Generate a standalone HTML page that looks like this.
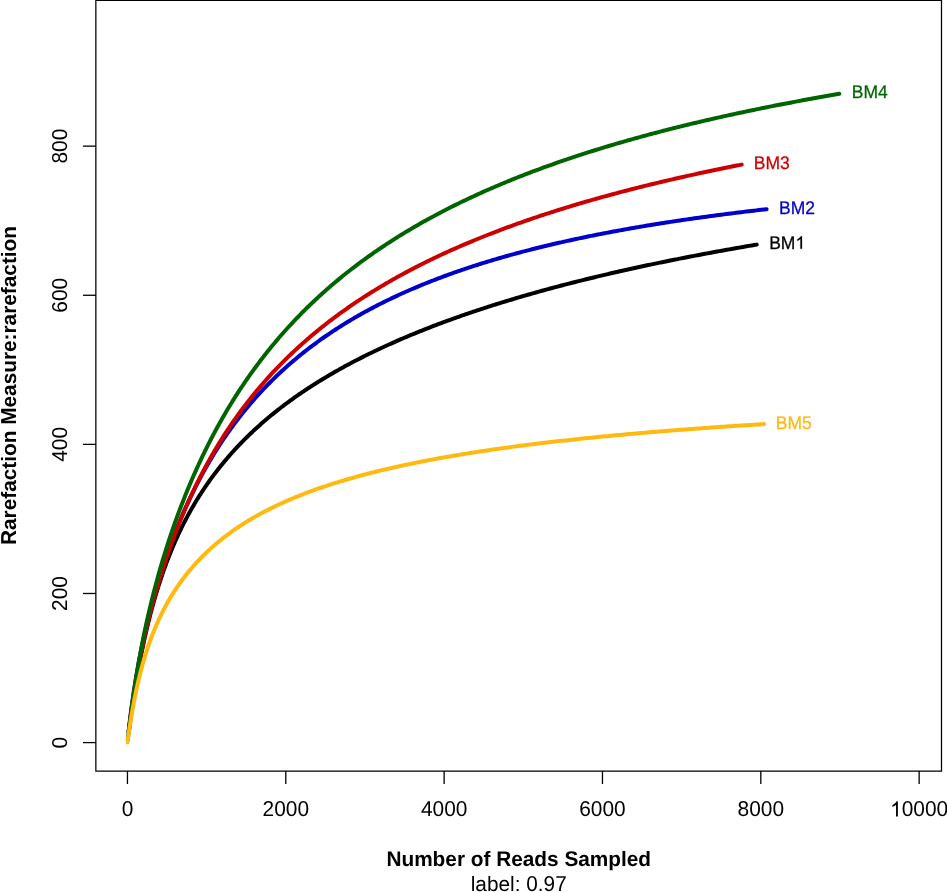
<!DOCTYPE html>
<html><head><meta charset="utf-8"><style>
html,body{margin:0;padding:0;background:#fff;width:947px;height:892px;overflow:hidden}
svg{display:block;will-change:transform}
text{font-family:"Liberation Sans", sans-serif;font-kerning:none;white-space:pre;text-rendering:geometricPrecision}
</style></head><body>
<svg width="947" height="892" viewBox="0 0 947 892">
<rect width="947" height="892" fill="#fff"/>
<polyline points="128.84,731.75 128.96,730.83 129.08,729.87 129.21,728.88 129.34,727.86 129.48,726.81 129.63,725.72 129.77,724.60 129.93,723.45 130.09,722.27 130.25,721.06 130.42,719.83 130.60,718.56 130.77,717.26 130.96,715.94 131.15,714.59 131.34,713.21 131.54,711.81 131.75,710.39 131.96,708.94 132.17,707.46 132.39,705.97 132.62,704.45 132.85,702.91 133.08,701.36 133.32,699.78 133.57,698.18 133.82,696.56 134.07,694.93 134.33,693.28 134.60,691.61 134.87,689.93 135.14,688.23 135.42,686.52 135.71,684.79 136.00,683.05 136.30,681.30 136.60,679.54 136.90,677.76 137.21,675.98 137.53,674.18 137.85,672.38 138.18,670.57 138.51,668.75 138.84,666.92 139.18,665.08 139.53,663.24 139.88,661.39 140.24,659.54 140.60,657.68 140.97,655.81 141.34,653.95 141.71,652.08 142.10,650.20 142.48,648.33 142.87,646.45 143.27,644.57 143.67,642.69 144.08,640.81 144.49,638.92 144.91,637.04 145.33,635.16 145.76,633.28 146.19,631.40 146.63,629.52 147.07,627.64 147.52,625.77 147.97,623.90 148.43,622.03 148.89,620.16 149.36,618.29 149.83,616.43 150.31,614.58 150.79,612.73 151.28,610.88 151.77,609.03 152.27,607.19 152.77,605.36 153.28,603.53 153.79,601.71 154.31,599.89 154.83,598.08 155.36,596.27 155.89,594.47 156.43,592.67 156.97,590.88 157.52,589.10 158.08,587.32 158.63,585.55 159.20,583.79 159.77,582.03 160.34,580.28 160.92,578.54 161.50,576.80 162.09,575.08 162.68,573.35 163.28,571.64 163.89,569.93 164.50,568.23 165.11,566.54 165.73,564.86 166.35,563.18 166.98,561.51 167.62,559.85 168.26,558.19 168.90,556.54 169.55,554.90 170.20,553.27 170.86,551.65 171.53,550.03 172.20,548.42 172.87,546.82 173.55,545.22 174.24,543.64 174.93,542.06 175.62,540.49 176.32,538.92 177.03,537.37 177.74,535.82 178.45,534.28 179.17,532.74 179.90,531.22 180.63,529.70 181.36,528.19 182.10,526.68 182.85,525.19 183.60,523.70 184.36,522.21 185.12,520.74 185.88,519.27 186.65,517.81 187.43,516.36 188.21,514.91 188.99,513.48 189.79,512.04 190.58,510.62 191.38,509.20 192.19,507.79 193.00,506.39 193.82,504.99 194.64,503.60 195.46,502.22 196.29,500.84 197.13,499.47 197.97,498.11 198.82,496.75 199.67,495.40 200.53,494.06 201.39,492.72 202.26,491.39 203.13,490.07 204.00,488.75 204.89,487.44 205.77,486.14 206.67,484.84 207.56,483.55 208.46,482.26 209.37,480.98 210.28,479.71 211.20,478.44 212.12,477.18 213.05,475.92 213.98,474.67 214.92,473.43 215.86,472.19 216.81,470.95 217.76,469.73 218.72,468.51 219.68,467.29 220.65,466.08 221.62,464.88 222.60,463.68 223.59,462.48 224.57,461.29 225.57,460.11 226.56,458.93 227.57,457.76 228.58,456.60 229.59,455.43 230.61,454.28 231.63,453.13 232.66,451.98 233.69,450.84 234.73,449.70 235.78,448.57 236.82,447.45 237.88,446.33 238.94,445.21 240.00,444.10 241.07,442.99 242.14,441.89 243.22,440.79 244.31,439.70 245.39,438.61 246.49,437.53 247.59,436.45 248.69,435.38 249.80,434.31 250.92,433.24 252.04,432.18 253.16,431.13 254.29,430.08 255.42,429.03 256.56,427.99 257.71,426.95 258.86,425.92 260.01,424.89 261.17,423.86 262.34,422.84 263.51,421.82 264.68,420.81 265.86,419.80 267.05,418.79 268.24,417.79 269.43,416.80 270.63,415.80 271.84,414.81 273.05,413.83 274.26,412.85 275.49,411.87 276.71,410.90 277.94,409.93 279.18,408.96 280.42,408.00 281.66,407.04 282.91,406.09 284.17,405.14 285.43,404.19 286.70,403.25 287.97,402.31 289.24,401.37 290.53,400.44 291.81,399.51 293.10,398.58 294.40,397.66 295.70,396.74 297.01,395.83 298.32,394.91 299.63,394.01 300.96,393.10 302.28,392.20 303.61,391.30 304.95,390.40 306.29,389.51 307.64,388.62 308.99,387.74 310.35,386.86 311.71,385.98 313.08,385.10 314.45,384.23 315.83,383.36 317.21,382.50 318.60,381.63 319.99,380.77 321.39,379.92 322.79,379.06 324.20,378.21 325.61,377.36 327.03,376.52 328.45,375.68 329.88,374.84 331.31,374.00 332.75,373.17 334.19,372.34 335.64,371.51 337.09,370.69 338.55,369.87 340.01,369.05 341.48,368.23 342.95,367.42 344.43,366.61 345.91,365.80 347.40,365.00 348.90,364.20 350.40,363.40 351.90,362.60 353.41,361.81 354.92,361.02 356.44,360.23 357.96,359.45 359.49,358.66 361.03,357.88 362.56,357.11 364.11,356.33 365.66,355.56 367.21,354.79 368.77,354.02 370.33,353.26 371.90,352.50 373.48,351.74 375.06,350.98 376.64,350.23 378.23,349.47 379.83,348.73 381.43,347.98 383.03,347.23 384.64,346.49 386.25,345.75 387.87,345.02 389.50,344.28 391.13,343.55 392.76,342.82 394.40,342.09 396.05,341.37 397.70,340.64 399.35,339.92 401.01,339.21 402.68,338.49 404.35,337.78 406.02,337.07 407.71,336.36 409.39,335.65 411.08,334.95 412.78,334.24 414.48,333.54 416.18,332.85 417.89,332.15 419.61,331.46 421.33,330.77 423.06,330.08 424.79,329.39 426.52,328.71 428.26,328.03 430.01,327.35 431.76,326.67 433.52,325.99 435.28,325.32 437.04,324.65 438.82,323.98 440.59,323.31 442.37,322.65 444.16,321.99 445.95,321.33 447.75,320.67 449.55,320.01 451.36,319.36 453.17,318.70 454.99,318.05 456.81,317.41 458.63,316.76 460.47,316.11 462.30,315.47 464.15,314.83 465.99,314.19 467.85,313.56 469.70,312.92 471.56,312.29 473.43,311.66 475.30,311.03 477.18,310.41 479.06,309.78 480.95,309.16 482.84,308.54 484.74,307.92 486.65,307.30 488.55,306.69 490.47,306.08 492.38,305.46 494.31,304.86 496.23,304.25 498.17,303.64 500.11,303.04 502.05,302.44 504.00,301.84 505.95,301.24 507.91,300.64 509.87,300.05 511.84,299.46 513.81,298.87 515.79,298.28 517.78,297.69 519.77,297.11 521.76,296.52 523.76,295.94 525.76,295.36 527.77,294.78 529.78,294.21 531.80,293.63 533.83,293.06 535.86,292.49 537.89,291.92 539.93,291.35 541.97,290.79 544.02,290.22 546.08,289.66 548.14,289.10 550.20,288.54 552.27,287.98 554.35,287.43 556.43,286.87 558.51,286.32 560.60,285.77 562.69,285.22 564.79,284.68 566.90,284.13 569.01,283.59 571.12,283.04 573.24,282.50 575.37,281.96 577.50,281.43 579.64,280.89 581.78,280.36 583.92,279.83 586.07,279.30 588.23,278.77 590.39,278.24 592.55,277.71 594.72,277.19 596.90,276.67 599.08,276.15 601.27,275.63 603.46,275.11 605.65,274.59 607.85,274.08 610.06,273.56 612.27,273.05 614.49,272.54 616.71,272.03 618.93,271.53 621.16,271.02 623.40,270.52 625.64,270.02 627.89,269.52 630.14,269.02 632.40,268.52 634.66,268.02 636.93,267.53 639.20,267.03 641.47,266.54 643.76,266.05 646.04,265.56 648.33,265.08 650.63,264.59 652.93,264.11 655.24,263.62 657.55,263.14 659.87,262.66 662.19,262.18 664.52,261.71 666.85,261.23 669.19,260.76 671.53,260.28 673.88,259.81 676.23,259.34 678.59,258.87 680.95,258.41 683.32,257.94 685.69,257.48 688.07,257.01 690.45,256.55 692.84,256.09 695.23,255.64 697.63,255.18 700.03,254.72 702.44,254.27 704.86,253.81 707.27,253.36 709.70,252.91 712.13,252.46 714.56,252.02 717.00,251.57 719.44,251.13 721.89,250.68 724.34,250.24 726.80,249.80 729.27,249.36 731.73,248.92 734.21,248.48 736.69,248.05 739.17,247.61 741.66,247.18 744.15,246.75 746.65,246.32 749.16,245.89 751.67,245.46 754.18,245.04 756.70,244.61" fill="none" stroke="#000000" stroke-width="4" stroke-linecap="round" stroke-linejoin="round"/>
<polyline points="128.63,731.61 128.74,730.61 128.86,729.57 128.98,728.49 129.10,727.38 129.24,726.23 129.37,725.05 129.51,723.84 129.66,722.59 129.81,721.31 129.97,720.01 130.13,718.67 130.30,717.31 130.47,715.92 130.64,714.51 130.83,713.07 131.01,711.61 131.21,710.12 131.40,708.62 131.61,707.09 131.81,705.55 132.03,703.98 132.25,702.40 132.47,700.80 132.70,699.19 132.93,697.56 133.17,695.91 133.41,694.25 133.66,692.58 133.92,690.90 134.18,689.20 134.44,687.49 134.71,685.77 134.98,684.04 135.26,682.31 135.55,680.56 135.84,678.80 136.13,677.04 136.43,675.27 136.74,673.49 137.05,671.70 137.37,669.91 137.69,668.11 138.01,666.31 138.34,664.50 138.68,662.68 139.02,660.86 139.37,659.04 139.72,657.21 140.08,655.38 140.44,653.54 140.81,651.70 141.18,649.86 141.56,648.02 141.94,646.17 142.33,644.32 142.72,642.46 143.12,640.61 143.52,638.75 143.93,636.89 144.34,635.02 144.76,633.16 145.18,631.29 145.61,629.43 146.04,627.56 146.48,625.69 146.93,623.82 147.38,621.95 147.83,620.07 148.29,618.20 148.75,616.33 149.22,614.45 149.70,612.58 150.18,610.70 150.66,608.83 151.15,606.95 151.65,605.08 152.15,603.21 152.66,601.33 153.17,599.46 153.68,597.59 154.20,595.71 154.73,593.84 155.26,591.97 155.80,590.10 156.34,588.23 156.89,586.37 157.44,584.50 157.99,582.64 158.56,580.77 159.12,578.91 159.70,577.05 160.27,575.20 160.86,573.34 161.44,571.49 162.04,569.64 162.63,567.79 163.24,565.94 163.85,564.10 164.46,562.26 165.08,560.42 165.70,558.58 166.33,556.75 166.96,554.92 167.60,553.09 168.25,551.27 168.90,549.45 169.55,547.63 170.21,545.82 170.88,544.01 171.55,542.20 172.22,540.40 172.90,538.60 173.59,536.80 174.28,535.01 174.97,533.22 175.67,531.44 176.38,529.66 177.09,527.88 177.81,526.11 178.53,524.34 179.25,522.58 179.99,520.82 180.72,519.07 181.46,517.32 182.21,515.58 182.96,513.84 183.72,512.10 184.48,510.37 185.25,508.65 186.02,506.93 186.80,505.21 187.58,503.51 188.37,501.80 189.16,500.10 189.96,498.41 190.77,496.72 191.57,495.03 192.39,493.36 193.21,491.68 194.03,490.02 194.86,488.36 195.69,486.70 196.53,485.05 197.38,483.40 198.23,481.76 199.08,480.13 199.94,478.50 200.81,476.88 201.68,475.26 202.55,473.65 203.43,472.05 204.32,470.45 205.21,468.86 206.10,467.27 207.00,465.69 207.91,464.11 208.82,462.54 209.74,460.98 210.66,459.42 211.59,457.87 212.52,456.33 213.45,454.79 214.40,453.26 215.34,451.73 216.30,450.21 217.25,448.69 218.22,447.19 219.18,445.68 220.16,444.19 221.13,442.70 222.12,441.21 223.11,439.74 224.10,438.26 225.10,436.80 226.10,435.34 227.11,433.89 228.12,432.44 229.14,431.00 230.17,429.57 231.20,428.14 232.23,426.71 233.27,425.30 234.31,423.89 235.36,422.49 236.42,421.09 237.48,419.70 238.54,418.31 239.61,416.93 240.69,415.56 241.77,414.20 242.86,412.84 243.95,411.48 245.04,410.13 246.14,408.79 247.25,407.46 248.36,406.13 249.48,404.80 250.60,403.49 251.73,402.17 252.86,400.87 254.00,399.57 255.14,398.28 256.28,396.99 257.44,395.71 258.59,394.43 259.76,393.16 260.93,391.90 262.10,390.64 263.28,389.39 264.46,388.15 265.65,386.91 266.84,385.68 268.04,384.45 269.24,383.23 270.45,382.01 271.67,380.80 272.89,379.60 274.11,378.40 275.34,377.21 276.57,376.02 277.81,374.84 279.06,373.66 280.31,372.50 281.56,371.33 282.82,370.17 284.09,369.02 285.36,367.88 286.64,366.73 287.92,365.60 289.20,364.47 290.49,363.35 291.79,362.23 293.09,361.11 294.40,360.01 295.71,358.91 297.03,357.81 298.35,356.72 299.67,355.63 301.01,354.55 302.34,353.48 303.69,352.41 305.03,351.34 306.39,350.29 307.74,349.23 309.11,348.19 310.47,347.14 311.85,346.11 313.23,345.07 314.61,344.05 316.00,343.03 317.39,342.01 318.79,341.00 320.19,339.99 321.60,338.99 323.02,338.00 324.44,337.00 325.86,336.02 327.29,335.04 328.73,334.06 330.17,333.09 331.61,332.13 333.06,331.17 334.52,330.21 335.98,329.26 337.44,328.31 338.91,327.37 340.39,326.44 341.87,325.51 343.36,324.58 344.85,323.66 346.34,322.74 347.84,321.83 349.35,320.92 350.86,320.02 352.38,319.12 353.90,318.23 355.43,317.34 356.96,316.46 358.50,315.58 360.04,314.70 361.59,313.83 363.14,312.97 364.70,312.11 366.26,311.25 367.83,310.40 369.40,309.55 370.98,308.71 372.57,307.87 374.16,307.04 375.75,306.21 377.35,305.38 378.95,304.56 380.56,303.75 382.18,302.93 383.80,302.13 385.42,301.32 387.05,300.52 388.69,299.73 390.33,298.94 391.97,298.15 393.62,297.37 395.28,296.59 396.94,295.82 398.60,295.05 400.27,294.28 401.95,293.52 403.63,292.76 405.32,292.01 407.01,291.26 408.71,290.51 410.41,289.77 412.11,289.03 413.83,288.30 415.54,287.57 417.27,286.84 418.99,286.12 420.73,285.40 422.46,284.69 424.21,283.98 425.95,283.27 427.71,282.57 429.46,281.87 431.23,281.18 433.00,280.49 434.77,279.80 436.55,279.11 438.33,278.43 440.12,277.76 441.92,277.09 443.71,276.42 445.52,275.75 447.33,275.09 449.14,274.43 450.96,273.78 452.79,273.13 454.62,272.48 456.45,271.83 458.29,271.19 460.14,270.56 461.99,269.92 463.84,269.29 465.71,268.67 467.57,268.04 469.44,267.42 471.32,266.81 473.20,266.19 475.09,265.58 476.98,264.98 478.88,264.38 480.78,263.78 482.68,263.18 484.60,262.59 486.51,262.00 488.44,261.41 490.36,260.83 492.30,260.25 494.23,259.67 496.18,259.10 498.13,258.53 500.08,257.96 502.04,257.39 504.00,256.83 505.97,256.28 507.94,255.72 509.92,255.17 511.91,254.62 513.89,254.07 515.89,253.53 517.89,252.99 519.89,252.46 521.90,251.92 523.92,251.39 525.94,250.86 527.96,250.34 529.99,249.82 532.03,249.30 534.07,248.78 536.11,248.27 538.17,247.76 540.22,247.25 542.28,246.75 544.35,246.24 546.42,245.75 548.50,245.25 550.58,244.76 552.66,244.26 554.76,243.78 556.85,243.29 558.95,242.81 561.06,242.33 563.17,241.85 565.29,241.38 567.41,240.91 569.54,240.44 571.68,239.97 573.81,239.51 575.96,239.05 578.10,238.59 580.26,238.13 582.42,237.68 584.58,237.23 586.75,236.78 588.92,236.33 591.10,235.89 593.29,235.45 595.48,235.01 597.67,234.57 599.87,234.14 602.07,233.71 604.28,233.28 606.50,232.85 608.72,232.43 610.95,232.01 613.18,231.59 615.41,231.17 617.65,230.76 619.90,230.35 622.15,229.94 624.40,229.53 626.67,229.13 628.93,228.72 631.20,228.32 633.48,227.93 635.76,227.53 638.05,227.14 640.34,226.74 642.64,226.36 644.94,225.97 647.25,225.58 649.56,225.20 651.88,224.82 654.20,224.44 656.53,224.07 658.86,223.69 661.20,223.32 663.54,222.95 665.89,222.59 668.25,222.22 670.60,221.86 672.97,221.50 675.34,221.14 677.71,220.78 680.09,220.42 682.48,220.07 684.86,219.72 687.26,219.37 689.66,219.02 692.06,218.68 694.47,218.34 696.89,218.00 699.31,217.66 701.74,217.32 704.17,216.98 706.60,216.65 709.04,216.32 711.49,215.99 713.94,215.66 716.40,215.34 718.86,215.01 721.32,214.69 723.80,214.37 726.27,214.05 728.75,213.74 731.24,213.42 733.73,213.11 736.23,212.80 738.73,212.49 741.24,212.18 743.75,211.88 746.27,211.57 748.80,211.27 751.32,210.97 753.86,210.67 756.39,210.37 758.94,210.08 761.49,209.78 764.04,209.49 766.60,209.20" fill="none" stroke="#0000CD" stroke-width="4" stroke-linecap="round" stroke-linejoin="round"/>
<polyline points="128.69,731.86 128.80,730.92 128.92,729.94 129.04,728.93 129.17,727.89 129.30,726.82 129.43,725.71 129.57,724.57 129.72,723.40 129.87,722.21 130.03,720.98 130.19,719.73 130.35,718.45 130.52,717.14 130.70,715.81 130.88,714.46 131.06,713.08 131.25,711.68 131.45,710.25 131.65,708.81 131.85,707.34 132.06,705.86 132.28,704.36 132.49,702.84 132.72,701.30 132.95,699.74 133.18,698.17 133.42,696.59 133.67,694.98 133.92,693.37 134.17,691.74 134.43,690.10 134.69,688.45 134.96,686.78 135.24,685.10 135.51,683.42 135.80,681.72 136.09,680.01 136.38,678.29 136.68,676.57 136.98,674.83 137.29,673.09 137.60,671.34 137.92,669.59 138.24,667.82 138.57,666.05 138.91,664.28 139.24,662.49 139.59,660.70 139.93,658.91 140.29,657.11 140.64,655.31 141.01,653.50 141.37,651.69 141.75,649.87 142.12,648.05 142.51,646.23 142.89,644.40 143.29,642.57 143.68,640.73 144.09,638.90 144.49,637.06 144.90,635.21 145.32,633.37 145.74,631.52 146.17,629.67 146.60,627.82 147.04,625.97 147.48,624.11 147.93,622.26 148.38,620.40 148.83,618.54 149.30,616.68 149.76,614.82 150.23,612.96 150.71,611.10 151.19,609.23 151.68,607.37 152.17,605.50 152.66,603.64 153.16,601.77 153.67,599.91 154.18,598.05 154.69,596.18 155.22,594.32 155.74,592.45 156.27,590.59 156.81,588.73 157.35,586.86 157.89,585.00 158.44,583.14 159.00,581.28 159.56,579.42 160.12,577.57 160.69,575.71 161.27,573.86 161.85,572.00 162.43,570.15 163.02,568.30 163.61,566.45 164.21,564.61 164.82,562.76 165.43,560.92 166.04,559.08 166.66,557.24 167.28,555.41 167.91,553.57 168.55,551.74 169.19,549.92 169.83,548.09 170.48,546.27 171.13,544.45 171.79,542.63 172.45,540.82 173.12,539.01 173.80,537.20 174.48,535.40 175.16,533.60 175.85,531.80 176.54,530.01 177.24,528.22 177.94,526.43 178.65,524.65 179.36,522.87 180.08,521.09 180.80,519.32 181.53,517.55 182.26,515.79 183.00,514.03 183.74,512.28 184.49,510.52 185.24,508.78 186.00,507.04 186.76,505.30 187.53,503.56 188.30,501.83 189.08,500.11 189.86,498.39 190.65,496.67 191.44,494.96 192.23,493.25 193.04,491.55 193.84,489.86 194.65,488.16 195.47,486.48 196.29,484.79 197.12,483.12 197.95,481.44 198.79,479.77 199.63,478.11 200.47,476.45 201.32,474.80 202.18,473.15 203.04,471.51 203.91,469.87 204.78,468.24 205.65,466.61 206.53,464.99 207.42,463.37 208.31,461.76 209.21,460.15 210.11,458.55 211.01,456.95 211.92,455.36 212.84,453.78 213.76,452.20 214.68,450.62 215.61,449.05 216.55,447.49 217.49,445.93 218.43,444.37 219.38,442.83 220.34,441.28 221.29,439.74 222.26,438.21 223.23,436.68 224.20,435.16 225.18,433.65 226.17,432.14 227.16,430.63 228.15,429.13 229.15,427.63 230.15,426.15 231.16,424.66 232.18,423.18 233.19,421.71 234.22,420.24 235.25,418.78 236.28,417.32 237.32,415.87 238.36,414.42 239.41,412.98 240.46,411.54 241.52,410.11 242.58,408.69 243.65,407.27 244.73,405.85 245.80,404.44 246.89,403.04 247.97,401.64 249.07,400.25 250.16,398.86 251.27,397.48 252.37,396.10 253.49,394.73 254.60,393.36 255.73,392.00 256.85,390.64 257.99,389.29 259.12,387.94 260.27,386.60 261.41,385.27 262.56,383.93 263.72,382.61 264.88,381.29 266.05,379.97 267.22,378.66 268.40,377.36 269.58,376.06 270.77,374.76 271.96,373.47 273.15,372.19 274.35,370.90 275.56,369.63 276.77,368.36 277.99,367.09 279.21,365.83 280.44,364.58 281.67,363.33 282.90,362.08 284.14,360.84 285.39,359.61 286.64,358.38 287.89,357.15 289.15,355.93 290.42,354.71 291.69,353.50 292.97,352.29 294.25,351.09 295.53,349.89 296.82,348.70 298.12,347.51 299.42,346.33 300.72,345.15 302.03,343.98 303.35,342.81 304.67,341.64 305.99,340.48 307.32,339.33 308.65,338.18 309.99,337.03 311.34,335.89 312.69,334.75 314.04,333.62 315.40,332.49 316.76,331.37 318.13,330.25 319.51,329.13 320.89,328.02 322.27,326.92 323.66,325.82 325.05,324.72 326.45,323.63 327.85,322.54 329.26,321.45 330.68,320.37 332.09,319.30 333.52,318.23 334.95,317.16 336.38,316.10 337.82,315.04 339.26,313.98 340.71,312.93 342.16,311.89 343.62,310.85 345.08,309.81 346.55,308.77 348.02,307.74 349.50,306.72 350.98,305.70 352.47,304.68 353.96,303.67 355.46,302.66 356.96,301.65 358.47,300.65 359.98,299.65 361.50,298.66 363.02,297.67 364.55,296.69 366.08,295.70 367.61,294.73 369.16,293.75 370.70,292.78 372.25,291.82 373.81,290.85 375.37,289.90 376.94,288.94 378.51,287.99 380.09,287.04 381.67,286.10 383.25,285.16 384.84,284.22 386.44,283.29 388.04,282.36 389.65,281.44 391.26,280.52 392.87,279.60 394.49,278.68 396.12,277.77 397.75,276.87 399.38,275.96 401.03,275.06 402.67,274.17 404.32,273.27 405.98,272.38 407.64,271.50 409.30,270.62 410.97,269.74 412.65,268.86 414.33,267.99 416.01,267.12 417.70,266.25 419.39,265.39 421.09,264.53 422.80,263.68 424.51,262.83 426.22,261.98 427.94,261.13 429.67,260.29 431.39,259.45 433.13,258.62 434.87,257.78 436.61,256.96 438.36,256.13 440.11,255.31 441.87,254.49 443.64,253.67 445.41,252.86 447.18,252.05 448.96,251.24 450.74,250.44 452.53,249.64 454.32,248.84 456.12,248.05 457.92,247.25 459.73,246.47 461.54,245.68 463.36,244.90 465.19,244.12 467.01,243.34 468.85,242.57 470.68,241.80 472.53,241.03 474.37,240.27 476.23,239.51 478.08,238.75 479.95,237.99 481.81,237.24 483.69,236.49 485.56,235.74 487.44,235.00 489.33,234.26 491.22,233.52 493.12,232.78 495.02,232.05 496.93,231.32 498.84,230.59 500.76,229.87 502.68,229.15 504.60,228.43 506.54,227.71 508.47,227.00 510.41,226.29 512.36,225.58 514.31,224.87 516.27,224.17 518.23,223.47 520.19,222.77 522.17,222.08 524.14,221.39 526.12,220.70 528.11,220.01 530.10,219.33 532.09,218.64 534.09,217.97 536.10,217.29 538.11,216.61 540.12,215.94 542.15,215.27 544.17,214.61 546.20,213.94 548.24,213.28 550.28,212.62 552.32,211.97 554.37,211.31 556.42,210.66 558.48,210.01 560.55,209.36 562.62,208.72 564.69,208.08 566.77,207.44 568.86,206.80 570.95,206.16 573.04,205.53 575.14,204.90 577.24,204.27 579.35,203.65 581.47,203.02 583.58,202.40 585.71,201.79 587.84,201.17 589.97,200.55 592.11,199.94 594.25,199.33 596.40,198.73 598.55,198.12 600.71,197.52 602.88,196.92 605.04,196.32 607.22,195.72 609.40,195.13 611.58,194.54 613.77,193.95 615.96,193.36 618.16,192.77 620.36,192.19 622.57,191.61 624.78,191.03 627.00,190.45 629.22,189.88 631.45,189.31 633.68,188.74 635.92,188.17 638.16,187.60 640.41,187.04 642.66,186.48 644.92,185.92 647.18,185.36 649.44,184.80 651.72,184.25 653.99,183.70 656.27,183.15 658.56,182.60 660.85,182.05 663.15,181.51 665.45,180.96 667.76,180.42 670.07,179.89 672.38,179.35 674.71,178.82 677.03,178.28 679.36,177.75 681.70,177.22 684.04,176.70 686.39,176.17 688.74,175.65 691.09,175.13 693.45,174.61 695.82,174.09 698.19,173.58 700.56,173.06 702.94,172.55 705.33,172.04 707.72,171.53 710.11,171.03 712.51,170.52 714.92,170.02 717.33,169.52 719.74,169.02 722.16,168.52 724.59,168.03 727.02,167.53 729.45,167.04 731.89,166.55 734.34,166.06 736.79,165.58 739.24,165.09 741.70,164.61" fill="none" stroke="#CD0000" stroke-width="4" stroke-linecap="round" stroke-linejoin="round"/>
<polyline points="127.85,739.27 127.91,738.69 127.98,738.05 128.06,737.36 128.14,736.63 128.23,735.85 128.33,735.02 128.43,734.15 128.53,733.24 128.64,732.27 128.76,731.27 128.88,730.22 129.01,729.13 129.15,728.00 129.29,726.83 129.43,725.62 129.58,724.37 129.74,723.09 129.90,721.77 130.07,720.41 130.25,719.02 130.43,717.59 130.61,716.13 130.80,714.64 131.00,713.12 131.20,711.57 131.41,709.99 131.63,708.38 131.85,706.74 132.07,705.08 132.31,703.39 132.54,701.68 132.79,699.95 133.03,698.19 133.29,696.42 133.55,694.62 133.81,692.80 134.09,690.96 134.36,689.11 134.65,687.23 134.94,685.34 135.23,683.44 135.53,681.52 135.84,679.58 136.15,677.63 136.46,675.67 136.79,673.70 137.12,671.71 137.45,669.72 137.79,667.71 138.14,665.69 138.49,663.67 138.85,661.63 139.21,659.59 139.58,657.54 139.95,655.48 140.33,653.41 140.72,651.34 141.11,649.27 141.51,647.18 141.91,645.10 142.32,643.00 142.73,640.91 143.15,638.81 143.58,636.70 144.01,634.59 144.45,632.48 144.89,630.37 145.34,628.25 145.80,626.13 146.26,624.01 146.72,621.89 147.19,619.76 147.67,617.63 148.15,615.51 148.64,613.38 149.14,611.25 149.64,609.12 150.14,606.98 150.65,604.85 151.17,602.72 151.70,600.59 152.22,598.46 152.76,596.32 153.30,594.19 153.85,592.06 154.40,589.93 154.95,587.80 155.52,585.67 156.09,583.54 156.66,581.41 157.24,579.28 157.83,577.15 158.42,575.03 159.02,572.90 159.62,570.78 160.23,568.66 160.84,566.54 161.46,564.42 162.09,562.30 162.72,560.19 163.36,558.07 164.00,555.96 164.65,553.85 165.31,551.75 165.97,549.64 166.63,547.54 167.30,545.44 167.98,543.34 168.66,541.24 169.35,539.15 170.05,537.05 170.75,534.96 171.45,532.88 172.17,530.79 172.88,528.71 173.61,526.63 174.34,524.56 175.07,522.49 175.81,520.42 176.56,518.35 177.31,516.29 178.07,514.23 178.83,512.17 179.60,510.12 180.37,508.07 181.15,506.03 181.94,503.98 182.73,501.95 183.53,499.91 184.33,497.88 185.14,495.85 185.96,493.83 186.78,491.81 187.60,489.80 188.43,487.79 189.27,485.78 190.12,483.78 190.96,481.78 191.82,479.79 192.68,477.80 193.55,475.81 194.42,473.83 195.30,471.86 196.18,469.89 197.07,467.92 197.96,465.96 198.86,464.00 199.77,462.05 200.68,460.10 201.60,458.16 202.52,456.22 203.45,454.29 204.39,452.37 205.33,450.45 206.27,448.53 207.22,446.62 208.18,444.71 209.15,442.81 210.11,440.92 211.09,439.03 212.07,437.14 213.06,435.27 214.05,433.39 215.05,431.53 216.05,429.66 217.06,427.81 218.07,425.96 219.09,424.11 220.12,422.28 221.15,420.44 222.19,418.61 223.23,416.79 224.28,414.98 225.34,413.17 226.40,411.36 227.46,409.57 228.54,407.77 229.61,405.99 230.70,404.21 231.79,402.43 232.88,400.67 233.98,398.90 235.09,397.15 236.20,395.40 237.32,393.66 238.44,391.92 239.57,390.19 240.70,388.46 241.84,386.74 242.99,385.03 244.14,383.32 245.30,381.62 246.46,379.93 247.63,378.24 248.81,376.56 249.99,374.88 251.18,373.21 252.37,371.55 253.57,369.89 254.77,368.24 255.98,366.60 257.19,364.96 258.41,363.33 259.64,361.70 260.87,360.08 262.11,358.47 263.35,356.86 264.60,355.26 265.86,353.67 267.12,352.08 268.38,350.50 269.66,348.92 270.93,347.35 272.22,345.79 273.51,344.23 274.80,342.68 276.10,341.13 277.41,339.60 278.72,338.06 280.04,336.54 281.36,335.02 282.69,333.50 284.03,331.99 285.37,330.49 286.71,329.00 288.07,327.51 289.42,326.02 290.79,324.55 292.16,323.08 293.53,321.61 294.91,320.15 296.30,318.70 297.69,317.25 299.09,315.81 300.49,314.38 301.90,312.95 303.32,311.52 304.74,310.11 306.16,308.70 307.60,307.29 309.03,305.89 310.48,304.50 311.93,303.11 313.38,301.73 314.84,300.35 316.31,298.98 317.78,297.62 319.26,296.26 320.74,294.91 322.23,293.56 323.73,292.22 325.23,290.88 326.73,289.56 328.25,288.23 329.76,286.91 331.29,285.60 332.82,284.29 334.35,282.99 335.89,281.70 337.44,280.41 338.99,279.12 340.55,277.84 342.11,276.57 343.68,275.30 345.26,274.04 346.84,272.78 348.43,271.53 350.02,270.28 351.62,269.04 353.22,267.81 354.83,266.58 356.44,265.35 358.07,264.13 359.69,262.92 361.32,261.71 362.96,260.51 364.61,259.31 366.26,258.12 367.91,256.93 369.57,255.75 371.24,254.57 372.91,253.40 374.59,252.23 376.27,251.07 377.96,249.91 379.66,248.76 381.36,247.61 383.06,246.47 384.78,245.33 386.49,244.20 388.22,243.07 389.95,241.95 391.68,240.83 393.42,239.72 395.17,238.61 396.92,237.51 398.68,236.41 400.44,235.32 402.21,234.23 403.99,233.15 405.77,232.07 407.56,231.00 409.35,229.93 411.15,228.86 412.95,227.80 414.76,226.75 416.58,225.70 418.40,224.65 420.22,223.61 422.06,222.57 423.89,221.54 425.74,220.51 427.59,219.49 429.44,218.47 431.30,217.45 433.17,216.45 435.04,215.44 436.92,214.44 438.80,213.44 440.69,212.45 442.59,211.46 444.49,210.48 446.40,209.50 448.31,208.52 450.23,207.55 452.15,206.58 454.08,205.62 456.02,204.66 457.96,203.71 459.90,202.76 461.86,201.81 463.81,200.87 465.78,199.94 467.75,199.00 469.72,198.07 471.70,197.15 473.69,196.23 475.68,195.31 477.68,194.39 479.69,193.49 481.69,192.58 483.71,191.68 485.73,190.78 487.76,189.89 489.79,189.00 491.83,188.11 493.87,187.23 495.92,186.35 497.98,185.48 500.04,184.61 502.11,183.74 504.18,182.88 506.26,182.02 508.34,181.16 510.43,180.31 512.53,179.46 514.63,178.62 516.73,177.77 518.85,176.94 520.96,176.10 523.09,175.27 525.22,174.45 527.35,173.62 529.49,172.80 531.64,171.99 533.79,171.17 535.95,170.37 538.12,169.56 540.29,168.76 542.46,167.96 544.64,167.16 546.83,166.37 549.02,165.58 551.22,164.80 553.42,164.02 555.63,163.24 557.85,162.46 560.07,161.69 562.30,160.92 564.53,160.16 566.77,159.40 569.01,158.64 571.26,157.88 573.52,157.13 575.78,156.38 578.04,155.63 580.32,154.89 582.60,154.15 584.88,153.42 587.17,152.68 589.46,151.95 591.77,151.23 594.07,150.50 596.39,149.78 598.70,149.06 601.03,148.35 603.36,147.64 605.69,146.93 608.03,146.22 610.38,145.52 612.73,144.82 615.09,144.12 617.46,143.43 619.83,142.74 622.20,142.05 624.58,141.36 626.97,140.68 629.36,140.00 631.76,139.32 634.17,138.65 636.58,137.98 638.99,137.31 641.41,136.65 643.84,135.98 646.27,135.32 648.71,134.67 651.15,134.01 653.60,133.36 656.06,132.71 658.52,132.07 660.99,131.42 663.46,130.78 665.94,130.14 668.42,129.51 670.91,128.87 673.41,128.24 675.91,127.62 678.42,126.99 680.93,126.37 683.45,125.75 685.97,125.13 688.50,124.52 691.04,123.90 693.58,123.29 696.13,122.69 698.68,122.08 701.24,121.48 703.80,120.88 706.37,120.28 708.95,119.69 711.53,119.10 714.12,118.51 716.71,117.92 719.31,117.33 721.91,116.75 724.52,116.17 727.14,115.59 729.76,115.02 732.38,114.44 735.02,113.87 737.66,113.30 740.30,112.74 742.95,112.17 745.61,111.61 748.27,111.05 750.93,110.50 753.61,109.94 756.29,109.39 758.97,108.84 761.66,108.29 764.36,107.75 767.06,107.20 769.76,106.66 772.48,106.12 775.20,105.58 777.92,105.05 780.65,104.52 783.39,103.99 786.13,103.46 788.87,102.93 791.63,102.41 794.39,101.89 797.15,101.37 799.92,100.85 802.70,100.33 805.48,99.82 808.26,99.31 811.06,98.80 813.86,98.29 816.66,97.78 819.47,97.28 822.29,96.78 825.11,96.28 827.93,95.78 830.77,95.29 833.61,94.79 836.45,94.30 839.30,93.81" fill="none" stroke="#006400" stroke-width="4" stroke-linecap="round" stroke-linejoin="round"/>
<polyline points="127.50,742.40 127.50,742.38 127.51,742.32 127.52,742.23 127.54,742.09 127.56,741.92 127.59,741.71 127.63,741.46 127.66,741.18 127.71,740.86 127.76,740.50 127.81,740.10 127.87,739.67 127.93,739.20 128.00,738.70 128.08,738.16 128.15,737.58 128.24,736.98 128.33,736.34 128.42,735.66 128.52,734.96 128.63,734.22 128.74,733.45 128.85,732.65 128.97,731.82 129.10,730.96 129.23,730.07 129.36,729.16 129.50,728.22 129.65,727.25 129.80,726.25 129.96,725.24 130.12,724.19 130.28,723.13 130.45,722.04 130.63,720.93 130.81,719.80 131.00,718.65 131.19,717.47 131.39,716.28 131.59,715.08 131.80,713.85 132.01,712.61 132.23,711.36 132.45,710.09 132.68,708.80 132.91,707.50 133.15,706.19 133.39,704.87 133.64,703.54 133.89,702.19 134.15,700.84 134.41,699.48 134.68,698.11 134.95,696.73 135.23,695.34 135.52,693.95 135.81,692.55 136.10,691.15 136.40,689.74 136.70,688.33 137.01,686.91 137.33,685.50 137.65,684.08 137.97,682.65 138.30,681.23 138.63,679.80 138.97,678.38 139.32,676.95 139.67,675.53 140.03,674.10 140.39,672.68 140.75,671.26 141.12,669.83 141.50,668.42 141.88,667.00 142.26,665.59 142.66,664.17 143.05,662.77 143.45,661.36 143.86,659.96 144.27,658.57 144.69,657.17 145.11,655.78 145.54,654.40 145.97,653.02 146.41,651.65 146.85,650.28 147.30,648.91 147.75,647.56 148.21,646.20 148.67,644.85 149.14,643.51 149.61,642.18 150.09,640.85 150.57,639.52 151.06,638.20 151.55,636.89 152.05,635.58 152.55,634.28 153.06,632.99 153.58,631.70 154.09,630.42 154.62,629.15 155.15,627.88 155.68,626.61 156.22,625.36 156.77,624.11 157.32,622.86 157.87,621.63 158.43,620.40 159.00,619.17 159.57,617.95 160.14,616.74 160.72,615.54 161.31,614.34 161.90,613.15 162.49,611.96 163.09,610.78 163.70,609.61 164.31,608.44 164.93,607.28 165.55,606.12 166.17,604.97 166.80,603.83 167.44,602.70 168.08,601.57 168.73,600.44 169.38,599.32 170.04,598.21 170.70,597.11 171.37,596.01 172.04,594.91 172.72,593.82 173.40,592.74 174.09,591.66 174.78,590.59 175.48,589.53 176.18,588.47 176.89,587.42 177.60,586.37 178.32,585.33 179.04,584.29 179.77,583.26 180.51,582.24 181.24,581.22 181.99,580.20 182.74,579.20 183.49,578.19 184.25,577.20 185.01,576.20 185.78,575.22 186.56,574.24 187.34,573.26 188.12,572.29 188.91,571.33 189.71,570.37 190.51,569.41 191.31,568.47 192.12,567.52 192.94,566.58 193.76,565.65 194.59,564.72 195.42,563.80 196.25,562.88 197.09,561.97 197.94,561.06 198.79,560.16 199.65,559.26 200.51,558.37 201.37,557.48 202.25,556.60 203.12,555.72 204.00,554.85 204.89,553.98 205.78,553.12 206.68,552.26 207.58,551.41 208.49,550.56 209.40,549.72 210.32,548.88 211.24,548.05 212.17,547.22 213.11,546.39 214.04,545.57 214.99,544.76 215.93,543.95 216.89,543.14 217.85,542.34 218.81,541.54 219.78,540.75 220.75,539.96 221.73,539.18 222.72,538.40 223.71,537.63 224.70,536.86 225.70,536.09 226.70,535.33 227.71,534.58 228.73,533.83 229.75,533.08 230.77,532.33 231.80,531.59 232.84,530.86 233.88,530.13 234.92,529.40 235.98,528.68 237.03,527.96 238.09,527.25 239.16,526.54 240.23,525.83 241.31,525.13 242.39,524.43 243.47,523.74 244.56,523.05 245.66,522.37 246.76,521.69 247.87,521.01 248.98,520.33 250.10,519.66 251.22,519.00 252.35,518.34 253.48,517.68 254.62,517.02 255.76,516.37 256.91,515.73 258.06,515.08 259.22,514.45 260.38,513.81 261.55,513.18 262.72,512.55 263.90,511.93 265.09,511.31 266.27,510.69 267.47,510.07 268.67,509.46 269.87,508.86 271.08,508.25 272.29,507.66 273.51,507.06 274.74,506.47 275.97,505.88 277.20,505.29 278.44,504.71 279.69,504.13 280.94,503.55 282.19,502.98 283.45,502.41 284.72,501.85 285.99,501.28 287.26,500.73 288.54,500.17 289.83,499.62 291.12,499.07 292.42,498.52 293.72,497.98 295.02,497.44 296.34,496.90 297.65,496.36 298.97,495.83 300.30,495.31 301.63,494.78 302.97,494.26 304.31,493.74 305.66,493.22 307.01,492.71 308.37,492.20 309.73,491.69 311.10,491.19 312.47,490.69 313.85,490.19 315.23,489.69 316.62,489.20 318.01,488.71 319.41,488.22 320.81,487.74 322.22,487.25 323.64,486.77 325.05,486.30 326.48,485.82 327.91,485.35 329.34,484.88 330.78,484.42 332.22,483.95 333.67,483.49 335.13,483.03 336.59,482.58 338.05,482.12 339.52,481.67 341.00,481.22 342.48,480.78 343.96,480.34 345.45,479.89 346.95,479.46 348.45,479.02 349.95,478.59 351.47,478.15 352.98,477.73 354.50,477.30 356.03,476.87 357.56,476.45 359.10,476.03 360.64,475.62 362.18,475.20 363.74,474.79 365.29,474.38 366.85,473.97 368.42,473.56 369.99,473.16 371.57,472.76 373.15,472.36 374.74,471.96 376.33,471.56 377.93,471.17 379.53,470.78 381.14,470.39 382.75,470.00 384.37,469.62 385.99,469.24 387.62,468.86 389.26,468.48 390.89,468.10 392.54,467.73 394.19,467.35 395.84,466.98 397.50,466.62 399.16,466.25 400.83,465.88 402.51,465.52 404.19,465.16 405.87,464.80 407.56,464.44 409.26,464.09 410.96,463.74 412.66,463.38 414.37,463.03 416.09,462.69 417.81,462.34 419.53,462.00 421.26,461.65 423.00,461.31 424.74,460.98 426.49,460.64 428.24,460.30 429.99,459.97 431.75,459.64 433.52,459.31 435.29,458.98 437.07,458.65 438.85,458.33 440.64,458.00 442.43,457.68 444.23,457.36 446.03,457.04 447.83,456.73 449.65,456.41 451.46,456.10 453.29,455.79 455.11,455.48 456.95,455.17 458.79,454.86 460.63,454.56 462.48,454.25 464.33,453.95 466.19,453.65 468.05,453.35 469.92,453.05 471.79,452.76 473.67,452.46 475.56,452.17 477.45,451.88 479.34,451.59 481.24,451.30 483.14,451.01 485.05,450.72 486.97,450.44 488.89,450.16 490.81,449.88 492.74,449.60 494.68,449.32 496.62,449.04 498.56,448.76 500.51,448.49 502.47,448.22 504.43,447.94 506.39,447.67 508.37,447.40 510.34,447.14 512.32,446.87 514.31,446.61 516.30,446.34 518.30,446.08 520.30,445.82 522.30,445.56 524.32,445.30 526.33,445.04 528.36,444.79 530.38,444.53 532.41,444.28 534.45,444.03 536.49,443.77 538.54,443.53 540.59,443.28 542.65,443.03 544.72,442.78 546.78,442.54 548.86,442.30 550.93,442.05 553.02,441.81 555.11,441.57 557.20,441.33 559.30,441.09 561.40,440.86 563.51,440.62 565.62,440.39 567.74,440.16 569.87,439.92 572.00,439.69 574.13,439.46 576.27,439.23 578.42,439.01 580.57,438.78 582.72,438.56 584.88,438.33 587.05,438.11 589.22,437.89 591.39,437.67 593.57,437.45 595.76,437.23 597.95,437.01 600.14,436.79 602.34,436.58 604.55,436.36 606.76,436.15 608.98,435.94 611.20,435.73 613.43,435.51 615.66,435.31 617.89,435.10 620.14,434.89 622.38,434.68 624.64,434.48 626.89,434.27 629.15,434.07 631.42,433.87 633.69,433.67 635.97,433.47 638.25,433.27 640.54,433.07 642.84,432.87 645.13,432.67 647.44,432.48 649.74,432.28 652.06,432.09 654.38,431.90 656.70,431.70 659.03,431.51 661.36,431.32 663.70,431.13 666.05,430.94 668.40,430.76 670.75,430.57 673.11,430.38 675.47,430.20 677.84,430.02 680.22,429.83 682.60,429.65 684.98,429.47 687.37,429.29 689.77,429.11 692.17,428.93 694.57,428.75 696.98,428.58 699.40,428.40 701.82,428.22 704.25,428.05 706.68,427.88 709.11,427.70 711.55,427.53 714.00,427.36 716.45,427.19 718.91,427.02 721.37,426.85 723.84,426.68 726.31,426.51 728.79,426.35 731.27,426.18 733.75,426.02 736.25,425.85 738.74,425.69 741.25,425.53 743.75,425.37 746.27,425.20 748.79,425.04 751.31,424.88 753.84,424.72 756.37,424.57 758.91,424.41 761.45,424.25 764.00,424.10" fill="none" stroke="#FFB90F" stroke-width="4" stroke-linecap="round" stroke-linejoin="round"/>
<path d="M95.85 0.4H941.5V771.15H95.85Z" fill="none" stroke="#000" stroke-width="1.25"/>
<line x1="127.45" y1="771" x2="127.45" y2="784" stroke="#000" stroke-width="1.3"/>
<text transform="translate(121.64,816.40) scale(1,1.03)" font-size="20.9" fill="#000">0</text>
<line x1="285.79" y1="771" x2="285.79" y2="784" stroke="#000" stroke-width="1.3"/>
<text transform="translate(262.54,816.40) scale(1,1.03)" font-size="20.9" fill="#000">2</text>
<text transform="translate(274.17,816.40) scale(1,1.03)" font-size="20.9" fill="#000">0</text>
<text transform="translate(285.79,816.40) scale(1,1.03)" font-size="20.9" fill="#000">0</text>
<text transform="translate(297.41,816.40) scale(1,1.03)" font-size="20.9" fill="#000">0</text>
<line x1="444.13" y1="771" x2="444.13" y2="784" stroke="#000" stroke-width="1.3"/>
<text transform="translate(420.88,816.40) scale(1,1.03)" font-size="20.9" fill="#000">4</text>
<text transform="translate(432.51,816.40) scale(1,1.03)" font-size="20.9" fill="#000">0</text>
<text transform="translate(444.13,816.40) scale(1,1.03)" font-size="20.9" fill="#000">0</text>
<text transform="translate(455.75,816.40) scale(1,1.03)" font-size="20.9" fill="#000">0</text>
<line x1="602.47" y1="771" x2="602.47" y2="784" stroke="#000" stroke-width="1.3"/>
<text transform="translate(579.22,816.40) scale(1,1.03)" font-size="20.9" fill="#000">6</text>
<text transform="translate(590.85,816.40) scale(1,1.03)" font-size="20.9" fill="#000">0</text>
<text transform="translate(602.47,816.40) scale(1,1.03)" font-size="20.9" fill="#000">0</text>
<text transform="translate(614.09,816.40) scale(1,1.03)" font-size="20.9" fill="#000">0</text>
<line x1="760.81" y1="771" x2="760.81" y2="784" stroke="#000" stroke-width="1.3"/>
<text transform="translate(737.56,816.40) scale(1,1.03)" font-size="20.9" fill="#000">8</text>
<text transform="translate(749.19,816.40) scale(1,1.03)" font-size="20.9" fill="#000">0</text>
<text transform="translate(760.81,816.40) scale(1,1.03)" font-size="20.9" fill="#000">0</text>
<text transform="translate(772.43,816.40) scale(1,1.03)" font-size="20.9" fill="#000">0</text>
<line x1="919.15" y1="771" x2="919.15" y2="784" stroke="#000" stroke-width="1.3"/>
<path transform="translate(890.09,816.40) scale(0.01021,-0.01021)" d="M763 0L583 0L583 1147Q518 1085 412 1023Q306 961 222 930L222 1104Q373 1175 486 1276Q599 1377 646 1472L763 1472Z" fill="#000"/>
<text transform="translate(901.71,816.40) scale(1,1.03)" font-size="20.9" fill="#000">0</text>
<text transform="translate(913.34,816.40) scale(1,1.03)" font-size="20.9" fill="#000">0</text>
<text transform="translate(924.96,816.40) scale(1,1.03)" font-size="20.9" fill="#000">0</text>
<text transform="translate(936.59,816.40) scale(1,1.03)" font-size="20.9" fill="#000">0</text>
<line x1="96" y1="742.60" x2="83" y2="742.60" stroke="#000" stroke-width="1.3"/>
<g transform="translate(66.85,742.60) rotate(-90)">
<text transform="translate(-5.81,0.00) scale(1,1.03)" font-size="20.9" fill="#000">0</text>
</g>
<line x1="96" y1="593.49" x2="83" y2="593.49" stroke="#000" stroke-width="1.3"/>
<g transform="translate(66.85,593.49) rotate(-90)">
<text transform="translate(-17.44,0.00) scale(1,1.03)" font-size="20.9" fill="#000">2</text>
<text transform="translate(-5.81,0.00) scale(1,1.03)" font-size="20.9" fill="#000">0</text>
<text transform="translate(5.81,0.00) scale(1,1.03)" font-size="20.9" fill="#000">0</text>
</g>
<line x1="96" y1="444.38" x2="83" y2="444.38" stroke="#000" stroke-width="1.3"/>
<g transform="translate(66.85,444.38) rotate(-90)">
<text transform="translate(-17.44,0.00) scale(1,1.03)" font-size="20.9" fill="#000">4</text>
<text transform="translate(-5.81,0.00) scale(1,1.03)" font-size="20.9" fill="#000">0</text>
<text transform="translate(5.81,0.00) scale(1,1.03)" font-size="20.9" fill="#000">0</text>
</g>
<line x1="96" y1="295.26" x2="83" y2="295.26" stroke="#000" stroke-width="1.3"/>
<g transform="translate(66.85,295.26) rotate(-90)">
<text transform="translate(-17.44,0.00) scale(1,1.03)" font-size="20.9" fill="#000">6</text>
<text transform="translate(-5.81,0.00) scale(1,1.03)" font-size="20.9" fill="#000">0</text>
<text transform="translate(5.81,0.00) scale(1,1.03)" font-size="20.9" fill="#000">0</text>
</g>
<line x1="96" y1="146.15" x2="83" y2="146.15" stroke="#000" stroke-width="1.3"/>
<g transform="translate(66.85,146.15) rotate(-90)">
<text transform="translate(-17.44,0.00) scale(1,1.03)" font-size="20.9" fill="#000">8</text>
<text transform="translate(-5.81,0.00) scale(1,1.03)" font-size="20.9" fill="#000">0</text>
<text transform="translate(5.81,0.00) scale(1,1.03)" font-size="20.9" fill="#000">0</text>
</g>
<text transform="translate(386.41,866.40) scale(1,1.02)" font-size="20.8" font-weight="bold" fill="#000">N</text>
<text x="401.43" y="866.40" font-size="20.8" font-weight="bold" fill="#000">umber of </text>
<text transform="translate(496.19,866.40) scale(1,1.02)" font-size="20.8" font-weight="bold" fill="#000">R</text>
<text x="511.21" y="866.40" font-size="20.8" font-weight="bold" fill="#000">eads </text>
<text transform="translate(564.40,866.40) scale(1,1.02)" font-size="20.8" font-weight="bold" fill="#000">S</text>
<text x="578.27" y="866.40" font-size="20.8" font-weight="bold" fill="#000">ampled</text>
<text x="470.76" y="890.90" font-size="20.8" fill="#000">label: </text>
<text transform="translate(526.26,890.90) scale(1,1.03)" font-size="20.8" fill="#000">0</text>
<text x="537.83" y="890.90" font-size="20.8" fill="#000">.</text>
<text transform="translate(543.61,890.90) scale(1,1.03)" font-size="20.8" fill="#000">9</text>
<text transform="translate(555.18,890.90) scale(1,1.03)" font-size="20.8" fill="#000">7</text>
<g transform="translate(16.1,385.5) rotate(-90)">
<text transform="translate(-159.52,0.00) scale(1,1.04)" font-size="20.8" font-weight="bold" fill="#000">R</text>
<text x="-144.50" y="0.00" font-size="20.8" font-weight="bold" fill="#000">arefaction </text>
<text transform="translate(-39.31,0.00) scale(1,1.04)" font-size="20.8" font-weight="bold" fill="#000">M</text>
<text x="-21.98" y="0.00" font-size="20.8" font-weight="bold" fill="#000">easure:rarefaction</text>
</g>
<text transform="translate(851.80,98.00) scale(1,1.04)" font-size="17.5" stroke="#006400" stroke-width="0.25" fill="#006400">B</text>
<text transform="translate(863.47,98.00) scale(1,1.04)" font-size="17.5" stroke="#006400" stroke-width="0.25" fill="#006400">M</text>
<text transform="translate(878.05,98.00) scale(1,1.04)" font-size="17.5" stroke="#006400" stroke-width="0.25" fill="#006400">4</text>
<text transform="translate(753.80,168.90) scale(1,1.04)" font-size="17.5" stroke="#CD0000" stroke-width="0.25" fill="#CD0000">B</text>
<text transform="translate(765.47,168.90) scale(1,1.04)" font-size="17.5" stroke="#CD0000" stroke-width="0.25" fill="#CD0000">M</text>
<text transform="translate(780.05,168.90) scale(1,1.04)" font-size="17.5" stroke="#CD0000" stroke-width="0.25" fill="#CD0000">3</text>
<text transform="translate(779.00,213.80) scale(1,1.04)" font-size="17.5" stroke="#0000CD" stroke-width="0.25" fill="#0000CD">B</text>
<text transform="translate(790.67,213.80) scale(1,1.04)" font-size="17.5" stroke="#0000CD" stroke-width="0.25" fill="#0000CD">M</text>
<text transform="translate(805.25,213.80) scale(1,1.04)" font-size="17.5" stroke="#0000CD" stroke-width="0.25" fill="#0000CD">2</text>
<text transform="translate(769.20,248.70) scale(1,1.04)" font-size="17.5" stroke="#000000" stroke-width="0.25" fill="#000000">B</text>
<text transform="translate(780.87,248.70) scale(1,1.04)" font-size="17.5" stroke="#000000" stroke-width="0.25" fill="#000000">M</text>
<path transform="translate(795.45,248.70) scale(0.00854,-0.00854)" d="M763 0L583 0L583 1147Q518 1085 412 1023Q306 961 222 930L222 1104Q373 1175 486 1276Q599 1377 646 1472L763 1472Z" fill="#000000" stroke="#000000" stroke-width="29.3"/>
<text transform="translate(775.80,428.70) scale(1,1.04)" font-size="17.5" stroke="#FFB90F" stroke-width="0.25" fill="#FFB90F">B</text>
<text transform="translate(787.47,428.70) scale(1,1.04)" font-size="17.5" stroke="#FFB90F" stroke-width="0.25" fill="#FFB90F">M</text>
<text transform="translate(802.05,428.70) scale(1,1.04)" font-size="17.5" stroke="#FFB90F" stroke-width="0.25" fill="#FFB90F">5</text>
</svg>
</body></html>
